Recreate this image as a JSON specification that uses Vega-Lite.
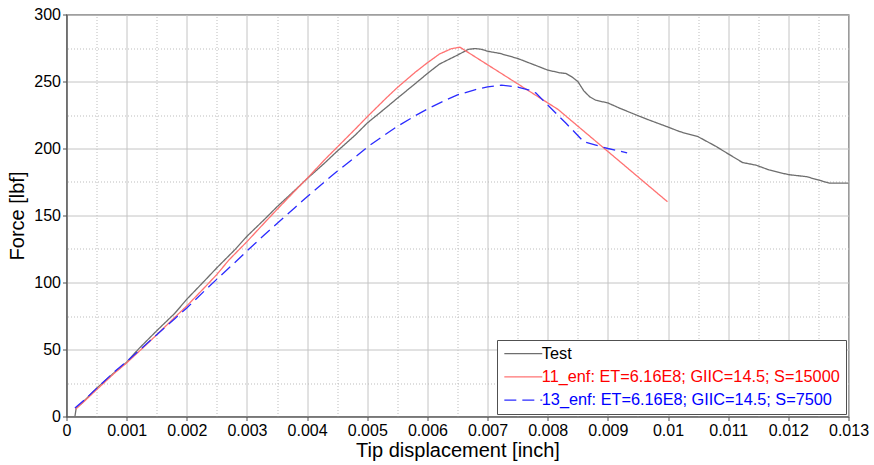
{
  "$schema": "https://vega.github.io/schema/vega-lite/v6.json",
  "width": 782,
  "height": 402,
  "autosize": {"type": "none"},
  "padding": {"left": 66.5, "top": 14.5, "right": 25, "bottom": 48},
  "config": {
    "font": "Liberation Sans",
    "view": {"stroke": "#505050", "strokeWidth": 1.2},
    "axis": {
      "domainColor": "#505050",
      "domainWidth": 1.2,
      "tickColor": "#505050",
      "tickSize": 4,
      "labelFontSize": 16,
      "labelColor": "#000000",
      "labelPadding": 2,
      "labelFlush": false,
      "labelOverlap": false,
      "titleFontSize": 20,
      "titleFontWeight": "normal",
      "titleColor": "#000000",
      "gridColor": "#c4c4c4",
      "gridWidth": 1
    }
  },
  "datasets": {
    "curves": [
      {"s": "Test", "x": 0.00014, "y": 0},
      {"s": "Test", "x": 0.00016, "y": 6},
      {"s": "Test", "x": 0.0003, "y": 12},
      {"s": "Test", "x": 0.0005, "y": 21},
      {"s": "Test", "x": 0.0008, "y": 33},
      {"s": "Test", "x": 0.001, "y": 40.5},
      {"s": "Test", "x": 0.0012, "y": 50.5},
      {"s": "Test", "x": 0.0015, "y": 64},
      {"s": "Test", "x": 0.0018, "y": 77},
      {"s": "Test", "x": 0.002, "y": 87.5},
      {"s": "Test", "x": 0.0023, "y": 101.5},
      {"s": "Test", "x": 0.0025, "y": 111},
      {"s": "Test", "x": 0.0028, "y": 124.5},
      {"s": "Test", "x": 0.003, "y": 134.5},
      {"s": "Test", "x": 0.0033, "y": 147.5},
      {"s": "Test", "x": 0.0035, "y": 156.5},
      {"s": "Test", "x": 0.0038, "y": 169},
      {"s": "Test", "x": 0.004, "y": 177.5},
      {"s": "Test", "x": 0.0043, "y": 189.5},
      {"s": "Test", "x": 0.0045, "y": 198},
      {"s": "Test", "x": 0.0048, "y": 210},
      {"s": "Test", "x": 0.005, "y": 219},
      {"s": "Test", "x": 0.0053, "y": 230},
      {"s": "Test", "x": 0.0055, "y": 237.5},
      {"s": "Test", "x": 0.0058, "y": 248.5},
      {"s": "Test", "x": 0.006, "y": 256},
      {"s": "Test", "x": 0.0062, "y": 263},
      {"s": "Test", "x": 0.0065, "y": 269.7},
      {"s": "Test", "x": 0.00668, "y": 274},
      {"s": "Test", "x": 0.0068, "y": 274.6},
      {"s": "Test", "x": 0.0069, "y": 274},
      {"s": "Test", "x": 0.007, "y": 272.6},
      {"s": "Test", "x": 0.0072, "y": 271},
      {"s": "Test", "x": 0.0075, "y": 267.2},
      {"s": "Test", "x": 0.0078, "y": 262},
      {"s": "Test", "x": 0.008, "y": 258.5},
      {"s": "Test", "x": 0.0082, "y": 256.5},
      {"s": "Test", "x": 0.0083, "y": 256},
      {"s": "Test", "x": 0.0084, "y": 253.5},
      {"s": "Test", "x": 0.0085, "y": 250},
      {"s": "Test", "x": 0.0086, "y": 243},
      {"s": "Test", "x": 0.0087, "y": 238.5},
      {"s": "Test", "x": 0.0088, "y": 236},
      {"s": "Test", "x": 0.009, "y": 234},
      {"s": "Test", "x": 0.0092, "y": 230},
      {"s": "Test", "x": 0.0095, "y": 224.5},
      {"s": "Test", "x": 0.0097, "y": 221},
      {"s": "Test", "x": 0.01, "y": 216},
      {"s": "Test", "x": 0.0102, "y": 212.5},
      {"s": "Test", "x": 0.0105, "y": 208.8},
      {"s": "Test", "x": 0.0108, "y": 201.5},
      {"s": "Test", "x": 0.011, "y": 196},
      {"s": "Test", "x": 0.01124, "y": 189.5},
      {"s": "Test", "x": 0.01146, "y": 187.6},
      {"s": "Test", "x": 0.01168, "y": 184},
      {"s": "Test", "x": 0.012, "y": 180.5},
      {"s": "Test", "x": 0.0123, "y": 179},
      {"s": "Test", "x": 0.01246, "y": 177},
      {"s": "Test", "x": 0.01268, "y": 174.2},
      {"s": "Test", "x": 0.013, "y": 174.2},

      {"s": "11_enf", "x": 0.00015, "y": 5.5},
      {"s": "11_enf", "x": 0.0003, "y": 11.5},
      {"s": "11_enf", "x": 0.0005, "y": 20},
      {"s": "11_enf", "x": 0.0008, "y": 32.5},
      {"s": "11_enf", "x": 0.001, "y": 40},
      {"s": "11_enf", "x": 0.0013, "y": 52.5},
      {"s": "11_enf", "x": 0.0015, "y": 61},
      {"s": "11_enf", "x": 0.0018, "y": 74},
      {"s": "11_enf", "x": 0.002, "y": 82.5},
      {"s": "11_enf", "x": 0.0023, "y": 96.5},
      {"s": "11_enf", "x": 0.0025, "y": 106},
      {"s": "11_enf", "x": 0.0027, "y": 116.8},
      {"s": "11_enf", "x": 0.003, "y": 130.5},
      {"s": "11_enf", "x": 0.0033, "y": 145},
      {"s": "11_enf", "x": 0.0035, "y": 154.5},
      {"s": "11_enf", "x": 0.0038, "y": 168.5},
      {"s": "11_enf", "x": 0.004, "y": 177.7},
      {"s": "11_enf", "x": 0.0043, "y": 192},
      {"s": "11_enf", "x": 0.0045, "y": 201},
      {"s": "11_enf", "x": 0.0048, "y": 214.5},
      {"s": "11_enf", "x": 0.005, "y": 223.7},
      {"s": "11_enf", "x": 0.0053, "y": 237},
      {"s": "11_enf", "x": 0.0055, "y": 245.5},
      {"s": "11_enf", "x": 0.0058, "y": 257},
      {"s": "11_enf", "x": 0.006, "y": 264},
      {"s": "11_enf", "x": 0.0062, "y": 270.5},
      {"s": "11_enf", "x": 0.0064, "y": 274.5},
      {"s": "11_enf", "x": 0.00654, "y": 275.6},
      {"s": "11_enf", "x": 0.00817, "y": 229.2},
      {"s": "11_enf", "x": 0.00999, "y": 160.3},

      {"s": "13_enf", "x": 0.00014, "y": 6.3},
      {"s": "13_enf", "x": 0.0003, "y": 12.5},
      {"s": "13_enf", "x": 0.0005, "y": 21},
      {"s": "13_enf", "x": 0.0008, "y": 33.5},
      {"s": "13_enf", "x": 0.001, "y": 41},
      {"s": "13_enf", "x": 0.0013, "y": 53},
      {"s": "13_enf", "x": 0.0015, "y": 61},
      {"s": "13_enf", "x": 0.0018, "y": 73},
      {"s": "13_enf", "x": 0.002, "y": 81},
      {"s": "13_enf", "x": 0.0023, "y": 94},
      {"s": "13_enf", "x": 0.0025, "y": 102.5},
      {"s": "13_enf", "x": 0.0028, "y": 115},
      {"s": "13_enf", "x": 0.003, "y": 123.5},
      {"s": "13_enf", "x": 0.0033, "y": 136},
      {"s": "13_enf", "x": 0.0035, "y": 144},
      {"s": "13_enf", "x": 0.0038, "y": 156},
      {"s": "13_enf", "x": 0.004, "y": 164},
      {"s": "13_enf", "x": 0.0043, "y": 175.5},
      {"s": "13_enf", "x": 0.0045, "y": 183},
      {"s": "13_enf", "x": 0.0048, "y": 193.5},
      {"s": "13_enf", "x": 0.005, "y": 201},
      {"s": "13_enf", "x": 0.0053, "y": 210.5},
      {"s": "13_enf", "x": 0.0055, "y": 216.5},
      {"s": "13_enf", "x": 0.0058, "y": 224.5},
      {"s": "13_enf", "x": 0.006, "y": 229.5},
      {"s": "13_enf", "x": 0.0063, "y": 236},
      {"s": "13_enf", "x": 0.0065, "y": 240},
      {"s": "13_enf", "x": 0.0068, "y": 244},
      {"s": "13_enf", "x": 0.007, "y": 246},
      {"s": "13_enf", "x": 0.00723, "y": 247.3},
      {"s": "13_enf", "x": 0.0075, "y": 245.8},
      {"s": "13_enf", "x": 0.0077, "y": 243.5},
      {"s": "13_enf", "x": 0.0078, "y": 241.5},
      {"s": "13_enf", "x": 0.008, "y": 232.5},
      {"s": "13_enf", "x": 0.0083, "y": 219},
      {"s": "13_enf", "x": 0.0086, "y": 205},
      {"s": "13_enf", "x": 0.0088, "y": 202.5},
      {"s": "13_enf", "x": 0.009, "y": 200},
      {"s": "13_enf", "x": 0.0092, "y": 198},
      {"s": "13_enf", "x": 0.00932, "y": 196.8}
    ]
  },
  "data": {"name": "curves"},
  "layer": [
    {
      "description": "Invisible layer carrying the dotted minor grid at half steps",
      "mark": {"type": "point", "opacity": 0},
      "encoding": {
        "x": {
          "field": "x", "type": "quantitative",
          "scale": {"domain": [0, 0.013], "nice": false, "zero": false},
          "axis": {
            "orient": "top", "title": null, "labels": false, "ticks": false, "domain": false,
            "grid": true, "gridDash": [1, 2], "gridColor": "#bdbdbd",
            "values": [0.0005, 0.0015, 0.0025, 0.0035, 0.0045, 0.0055, 0.0065, 0.0075, 0.0085, 0.0095, 0.0105, 0.0115, 0.0125]
          }
        },
        "y": {
          "field": "y", "type": "quantitative",
          "scale": {"domain": [0, 300], "nice": false},
          "axis": {
            "orient": "right", "title": null, "labels": false, "ticks": false, "domain": false,
            "grid": true, "gridDash": [1, 2], "gridColor": "#bdbdbd",
            "values": [25, 75, 125, 175, 225, 275]
          }
        }
      }
    },
    {
      "mark": {"type": "line", "strokeWidth": 1.3, "clip": true},
      "encoding": {
        "x": {
          "field": "x", "type": "quantitative",
          "axis": {
            "orient": "bottom", "title": "Tip displacement [inch]", "grid": true,
            "values": [0, 0.001, 0.002, 0.003, 0.004, 0.005, 0.006, 0.007, 0.008, 0.009, 0.01, 0.011, 0.012, 0.013],
            "format": ".3~f", "titlePadding": 2
          }
        },
        "y": {
          "field": "y", "type": "quantitative",
          "axis": {
            "orient": "left", "title": "Force [lbf]", "grid": true,
            "values": [0, 50, 100, 150, 200, 250, 300], "titlePadding": 6
          }
        },
        "color": {
          "field": "s", "type": "nominal",
          "scale": {"domain": ["Test", "11_enf", "13_enf"], "range": ["#6e6e6e", "#ff7272", "#2b2bff"]},
          "legend": {
            "title": null,
            "orient": "none", "legendX": 430.5, "legendY": 325.5,
            "fillColor": "#ffffff", "strokeColor": "#505050", "padding": 5.5,
            "symbolType": "M-1,0H5", "symbolSize": 160, "symbolStrokeWidth": 1.3,
            "labelFontSize": 16.3, "labelOffset": 23, "rowPadding": 6.2, "labelLimit": 400,
            "labelExpr": "datum.value == '11_enf' ? '11_enf: ET=6.16E8; GIIC=14.5; S=15000' : datum.value == '13_enf' ? '13_enf: ET=6.16E8; GIIC=14.5; S=7500' : 'Test'",
            "encode": {
              "labels": {
                "update": {
                  "fill": {"signal": "datum.value == 'Test' ? '#000000' : datum.value == '11_enf' ? '#ff0000' : '#0000ff'"}
                }
              }
            }
          }
        },
        "strokeDash": {
          "field": "s", "type": "nominal",
          "scale": {"domain": ["Test", "11_enf", "13_enf"], "range": [[1, 0], [1, 0], [12, 6]]},
          "legend": null
        }
      }
    }
  ],
  "resolve": {"axis": {"x": "independent", "y": "independent"}}
}
